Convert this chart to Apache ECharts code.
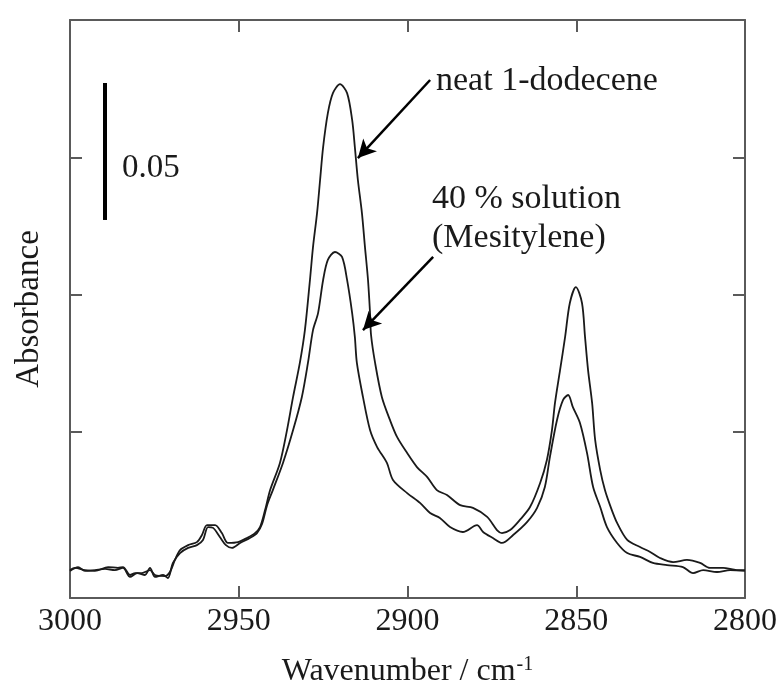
<!DOCTYPE html>
<html>
<head>
<meta charset="utf-8">
<script src="https://cdn.jsdelivr.net/npm/echarts@6/dist/echarts.min.js"></script>
<style>html,body{margin:0;padding:0;background:#fff}#c{width:784px;height:691px}</style>
</head>
<body>
<div id="c"></div>
<script>
// Wavenumber (cm-1) and absorbance
var neatWn = [3000.0,2998.5,2995.6,2992.6,2988.7,2985.8,2984.3,2982.2,2980.7,2978.7,2976.3,2974.8,2971.9,2970.4,2968.9,2967.4,2965.0,2962.4,2960.9,2959.4,2957.0,2955.0,2953.2,2950.2,2947.6,2945.2,2943.7,2942.2,2940.7,2937.8,2935.7,2933.9,2931.9,2930.4,2928.9,2928.0,2926.8,2925.9,2925.0,2923.6,2922.1,2920.0,2917.9,2916.4,2915.6,2914.7,2913.5,2912.6,2911.7,2911.1,2910.8,2909.6,2907.6,2905.2,2903.1,2900.1,2897.2,2894.2,2891.3,2888.3,2884.4,2880.6,2876.4,2873.5,2872.0,2869.6,2866.7,2863.7,2860.7,2858.7,2857.2,2856.3,2854.8,2853.3,2851.9,2850.1,2848.3,2847.4,2846.5,2845.3,2844.4,2842.9,2841.5,2840.0,2837.9,2834.9,2831.1,2828.1,2825.2,2821.3,2817.2,2813.3,2810.4,2806.5,2802.4,2800.0];
var neatAbs = [0.0102,0.0110,0.0102,0.0099,0.0113,0.0110,0.0113,0.0084,0.0091,0.0091,0.0102,0.0084,0.0080,0.0095,0.0139,0.0175,0.0193,0.0204,0.0230,0.0266,0.0266,0.0237,0.0201,0.0204,0.0219,0.0237,0.0259,0.0321,0.0394,0.0493,0.0613,0.0734,0.0858,0.0978,0.1161,0.1281,0.1405,0.1526,0.1646,0.1770,0.1843,0.1876,0.1843,0.1745,0.1646,0.1526,0.1405,0.1281,0.1161,0.1040,0.0960,0.0858,0.0734,0.0650,0.0588,0.0529,0.0478,0.0442,0.0394,0.0376,0.0339,0.0329,0.0296,0.0248,0.0237,0.0248,0.0285,0.0332,0.0420,0.0504,0.0613,0.0712,0.0832,0.0953,0.1077,0.1135,0.1077,0.0953,0.0832,0.0712,0.0577,0.0467,0.0394,0.0339,0.0274,0.0212,0.0186,0.0168,0.0146,0.0131,0.0139,0.0128,0.0110,0.0110,0.0102,0.0102];
var solWn = [3000.0,2997.6,2995.6,2992.6,2989.6,2986.7,2984.3,2982.2,2980.1,2977.8,2976.3,2974.8,2972.4,2971.0,2969.5,2967.4,2965.0,2962.4,2960.6,2959.1,2957.6,2955.6,2953.8,2952.0,2949.6,2946.7,2944.6,2943.1,2941.6,2939.9,2936.9,2933.9,2931.3,2929.5,2928.0,2926.5,2925.0,2923.6,2921.5,2919.4,2917.9,2916.4,2915.6,2915.0,2913.2,2911.1,2909.0,2906.1,2904.3,2900.1,2896.3,2893.3,2890.4,2887.4,2883.6,2879.4,2877.6,2874.7,2872.0,2868.7,2864.6,2861.6,2859.3,2857.8,2855.7,2853.9,2852.4,2851.0,2848.9,2846.8,2845.0,2842.9,2840.9,2837.9,2834.9,2831.1,2827.3,2823.1,2818.4,2815.4,2812.4,2808.3,2804.4,2800.0];
var solAbs = [0.0099,0.0113,0.0099,0.0102,0.0106,0.0102,0.0110,0.0077,0.0091,0.0084,0.0110,0.0077,0.0084,0.0073,0.0128,0.0164,0.0183,0.0193,0.0212,0.0259,0.0256,0.0223,0.0193,0.0183,0.0201,0.0219,0.0237,0.0270,0.0339,0.0394,0.0493,0.0613,0.0734,0.0858,0.0978,0.1040,0.1161,0.1234,0.1263,0.1245,0.1161,0.1040,0.0953,0.0858,0.0734,0.0613,0.0551,0.0493,0.0431,0.0383,0.0347,0.0310,0.0292,0.0259,0.0241,0.0266,0.0241,0.0219,0.0201,0.0230,0.0277,0.0329,0.0405,0.0515,0.0650,0.0723,0.0741,0.0697,0.0639,0.0529,0.0405,0.0332,0.0259,0.0201,0.0164,0.0150,0.0128,0.0120,0.0113,0.0091,0.0102,0.0095,0.0102,0.0099];
var xTicks = [3000, 2950, 2900, 2850, 2800];
var yTicks = [0.0606, 0.1106, 0.1606];
var labels = {neat: 'neat 1-dodecene', sol1: '40 % solution', sol2: '(Mesitylene)', scale: '0.05'};
var scaleBar = {wn: 2989.6, from: 0.138, to: 0.188};

function pairs(xs, ys){ return xs.map(function(x,i){ return [x, ys[i]]; }); }

var FONT = '"Liberation Serif", "Times New Roman", serif';
var ink = '#1a1a1a';
var axisCol = '#5a5a5a';

var chart = echarts.init(document.getElementById('c'), null, {renderer: 'canvas'});
function xAx(pos, show){
  return {
    type: 'value', position: pos, min: 2800, max: 3000, interval: 50, inverse: true,
    axisLine: {show: true, onZero: false, lineStyle: {color: axisCol, width: 2}},
    axisTick: {show: true, inside: true, length: 12, lineStyle: {color: axisCol, width: 2}},
    axisLabel: {show: show, color: ink, fontFamily: FONT, fontSize: 32, margin: 8,
      formatter: function(v){ return String(v); }},
    splitLine: {show: false},
    name: show ? 'Wavenumber / cm{sup|-1}' : '',
    nameLocation: 'middle', nameGap: 57,
    nameTextStyle: {color: ink, fontFamily: FONT, fontSize: 32,
      rich: {sup: {fontFamily: FONT, fontSize: 20, color: ink, verticalAlign: 'top', padding: [0, 0, 14, 1]}}}
  };
}
function yAx(pos, show){
  return {
    type: 'value', position: pos, min: 0, max: 0.211,
    axisLine: {show: true, onZero: false, lineStyle: {color: axisCol, width: 2}},
    axisTick: {show: true, inside: true, length: 12, customValues: yTicks, lineStyle: {color: axisCol, width: 2}},
    axisLabel: {show: false},
    splitLine: {show: false},
    name: show ? 'Absorbance' : '',
    nameLocation: 'middle', nameGap: 24,
    nameTextStyle: {color: ink, fontFamily: FONT, fontSize: 33}
  };
}
var option = {
  animation: false,
  backgroundColor: '#fff',
  grid: {left: 70, right: 39, top: 20, bottom: 93, containLabel: false, outerBoundsMode: 'none'},
  xAxis: [xAx('bottom', true), xAx('top', false)],
  yAxis: [yAx('left', true), yAx('right', false)],
  series: [
    {
      type: 'line', name: 'neat', data: pairs(neatWn, neatAbs), showSymbol: false, smooth: 0.3,
      lineStyle: {color: ink, width: 1.8}, z: 3,
      markLine: {
        silent: true, animation: false,
        symbol: ['none', 'arrow'], symbolSize: [14, 18],
        lineStyle: {color: '#000', width: 2.5, type: 'solid'},
        label: {show: false},
        data: [
          [{coord: [2893.3, 0.1891]}, {coord: [2914.7, 0.1606]}],
          [{coord: [2892.4, 0.1245]}, {coord: [2913.2, 0.0978]}],
          [{coord: [scaleBar.wn, scaleBar.from], symbol: 'none'}, {coord: [scaleBar.wn, scaleBar.to], symbol: 'none', lineStyle: {width: 4}}]
        ]
      }
    },
    {
      type: 'line', name: 'solution', data: pairs(solWn, solAbs), showSymbol: false, smooth: 0.3,
      lineStyle: {color: ink, width: 1.8}, z: 3
    }
  ],
  graphic: [
    {type: 'text', left: 436, top: 64, style: {text: labels.neat, font: '34px ' + FONT, fill: ink}},
    {type: 'text', left: 432, top: 182, style: {text: labels.sol1, font: '34px ' + FONT, fill: ink}},
    {type: 'text', left: 432, top: 221, style: {text: labels.sol2, font: '34px ' + FONT, fill: ink}},
    {type: 'text', left: 122, top: 152, style: {text: labels.scale, font: '33px ' + FONT, fill: ink}}
  ]
};
chart.setOption(option);
</script>
</body>
</html>
